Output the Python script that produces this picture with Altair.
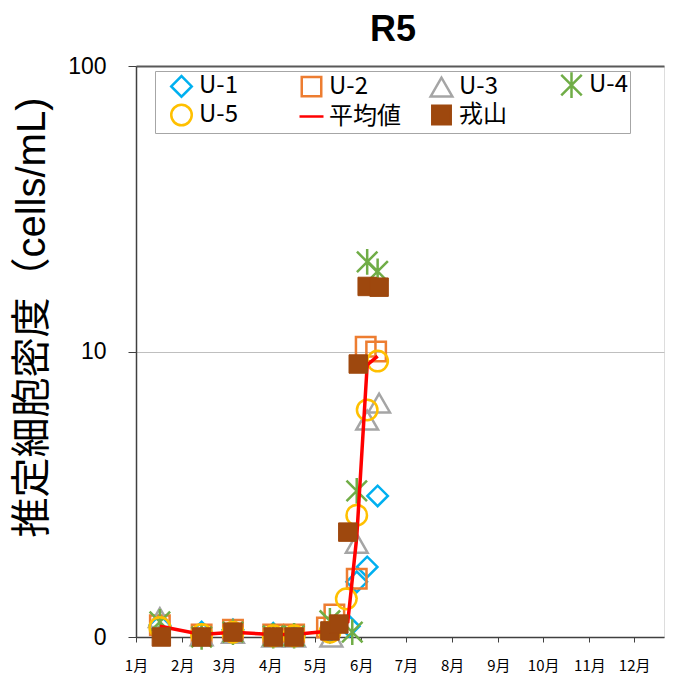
import altair as alt
import pandas as pd

# ---- data (R5 = 2023) ----
series_names = ["U-1", "U-2", "U-3", "U-4", "U-5", "平均値", "戎山"]
series_colors = ["#00B0F0", "#ED7D31", "#A5A5A5", "#70AD47", "#FFC000", "#FF0000", "#9E480E"]

u1_dates = ["2023-01-17", "2023-02-14", "2023-03-07", "2023-04-03", "2023-04-17",
            "2023-05-11", "2023-05-24", "2023-05-29", "2023-06-05", "2023-06-12"]
u1_vals = [1.10, 1.04, 1.06, 1.03, 1.01, 1.04, 1.09, 1.56, 1.76, 3.12]

u2_dates = ["2023-01-17", "2023-02-14", "2023-03-07", "2023-04-03", "2023-04-17",
            "2023-05-09", "2023-05-14", "2023-05-29", "2023-06-04", "2023-06-11"]
u2_vals = [1.10, 1.02, 1.06, 1.02, 1.02, 1.08, 1.20, 1.60, 10.4, 10.0]

u3_dates = ["2023-01-17", "2023-02-14", "2023-03-07", "2023-04-03", "2023-04-17",
            "2023-05-12", "2023-05-29", "2023-06-05", "2023-06-13"]
u3_vals = [1.17, 1.01, 1.03, 1.00, 1.00, 1.00, 2.13, 5.75, 6.60]

u4_dates = ["2023-01-17", "2023-02-14", "2023-03-07", "2023-04-03", "2023-04-17",
            "2023-05-11", "2023-05-26", "2023-05-29", "2023-06-05", "2023-06-12"]
u4_vals = [1.13, 1.00, 1.04, 1.01, 1.01, 1.14, 1.04, 3.25, 20.6, 19.1]

u5_dates = ["2023-01-17", "2023-02-14", "2023-03-07", "2023-04-03", "2023-04-17",
            "2023-05-11", "2023-05-22", "2023-05-29", "2023-06-05", "2023-06-12"]
u5_vals = [1.08, 1.02, 1.04, 1.01, 1.01, 1.04, 1.36, 2.67, 6.24, 9.26]

avg_dates = ["2023-01-17", "2023-02-14", "2023-03-07", "2023-04-03", "2023-04-17",
             "2023-05-11", "2023-05-23", "2023-05-29", "2023-06-05", "2023-06-12"]
avg_vals = [1.09, 1.02, 1.04, 1.02, 1.02, 1.05, 1.13, 2.24, 8.97, 9.64]

ebi_dates = ["2023-01-18", "2023-02-14", "2023-03-07", "2023-04-03", "2023-04-17",
             "2023-05-11", "2023-05-17", "2023-05-23", "2023-05-30", "2023-06-05", "2023-06-13"]
ebi_vals = [1.00, 1.00, 1.04, 1.00, 1.00, 1.05, 1.11, 2.33, 9.04, 16.9, 16.8]

month_numbers = list(range(1, 13))
y_ticks = [1, 10, 100]

rows = []
for name, ds, vs in [("U-1", u1_dates, u1_vals), ("U-2", u2_dates, u2_vals),
                     ("U-3", u3_dates, u3_vals), ("U-4", u4_dates, u4_vals),
                     ("U-5", u5_dates, u5_vals), ("平均値", avg_dates, avg_vals),
                     ("戎山", ebi_dates, ebi_vals)]:
    for d, v in zip(ds, vs):
        rows.append({"series": name, "date": d, "value": v})
df = pd.DataFrame(rows)

# ---- styling ----
asterisk = "M-1,-1L1,1M-1,1L1,-1M0,-1.25L0,1.25"
shapes = ["diamond", "square", "triangle-up", asterisk, "circle", "stroke", "square"]
fills = ["transparent", "transparent", "transparent", "transparent", "transparent", "transparent", "#9E480E"]
sizes = [420, 380, 470, 420, 420, 576, 340]

legend = alt.Legend(
    orient="none", legendX=19, legendY=5, columns=4, direction="horizontal", gridAlign="all",
    padding=2, symbolOffset=11, rowPadding=-6, columnPadding=16,
    labelFont="Noto Sans CJK JP", labelFontSize=24, labelColor="black", labelOffset=4,
    symbolStrokeWidth=2.5, strokeColor="#a6a6a6", fillColor="white", title=None,
)

x_enc = alt.X(
    "date:T",
    scale=alt.Scale(type="utc",
                    domain=[alt.DateTime(year=2023, month=1, date=1, utc=True),
                            alt.DateTime(year=2023, month=12, date=21, utc=True)]),
    axis=alt.Axis(
        values=[alt.DateTime(year=2023, month=m, date=1, utc=True) for m in month_numbers],
        labelExpr="(utcmonth(datum.value)+1) + '月'",
        labelFont="Noto Sans CJK JP", labelFontSize=15, labelColor="black",
        labelPadding=16, labelFlush=False, labelOverlap=False,
        tickSize=5, tickColor="#404040", domainColor="#404040", domainWidth=1.5,
        grid=False,
    ),
    title=None,
)
y_enc = alt.Y(
    "value:Q",
    scale=alt.Scale(type="log", domain=[1, 100]),
    axis=alt.Axis(
        values=y_ticks,
        labelExpr="datum.value < 2 ? '0' : format(datum.value, 'd')",
        labelFont="Liberation Sans", labelFontSize=23, labelColor="black", labelPadding=22,
        tickSize=8, tickColor="#404040", domainColor="#404040", domainWidth=1.5,
        grid=True,
        gridColor=alt.condition("datum.value >= 100", alt.value("#595959"), alt.value("#bfbfbf")),
        gridWidth=alt.condition("datum.value >= 100", alt.value(2), alt.value(1)),
        title="推定細胞密度（cells/mL)",
        titleFont="Liberation Sans, 'Noto Sans CJK JP'", titleFontSize=40,
        titleFontWeight="normal", titleColor="black", titleAngle=270,
        titleX=-104, titleY=251, titleAlign="center", titleBaseline="middle",
    ),
    title="推定細胞密度（cells/mL)",
)

stroke_enc = alt.Stroke("series:N", scale=alt.Scale(domain=series_names, range=series_colors),
                        legend=legend, title=None)
fill_enc = alt.Fill("series:N", scale=alt.Scale(domain=series_names, range=fills),
                    legend=legend, title=None)
shape_enc = alt.Shape("series:N", scale=alt.Scale(domain=series_names, range=shapes),
                      legend=legend, title=None)
size_enc = alt.Size("series:N", scale=alt.Scale(type="ordinal", domain=series_names, range=sizes),
                    legend=legend, title=None)

base = alt.Chart(df)

pts_u = base.transform_filter(
    alt.FieldOneOfPredicate(field="series", oneOf=["U-1", "U-2", "U-3", "U-4", "U-5"])
).mark_point(filled=True, opacity=1, strokeWidth=2.5).encode(
    x=x_enc, y=y_enc, stroke=stroke_enc, fill=fill_enc, shape=shape_enc, size=size_enc
)

avg_line = base.transform_filter(
    alt.FieldEqualPredicate(field="series", equal="平均値")
).mark_line(strokeWidth=3.5).encode(
    x=x_enc, y=y_enc, stroke=stroke_enc
)

pts_b = base.transform_filter(
    alt.FieldEqualPredicate(field="series", equal="戎山")
).mark_point(filled=True, opacity=1, strokeWidth=1).encode(
    x=x_enc, y=y_enc, stroke=stroke_enc, fill=fill_enc, shape=shape_enc, size=size_enc
)

chart = alt.layer(pts_u, avg_line, pts_b).properties(
    width=528, height=571,
    title=alt.TitleParams("R5", font="Liberation Sans", fontSize=36, fontWeight="bold",
                          color="black", anchor="middle", dx=-7, offset=6),
    autosize=alt.AutoSizeParams(type="none"),
    padding={"left": 128, "top": 58, "right": 1, "bottom": 38},
).configure_view(stroke=None).configure(background="white")

chart.save("out.html", embed_options={"renderer": "svg", "actions": False})
